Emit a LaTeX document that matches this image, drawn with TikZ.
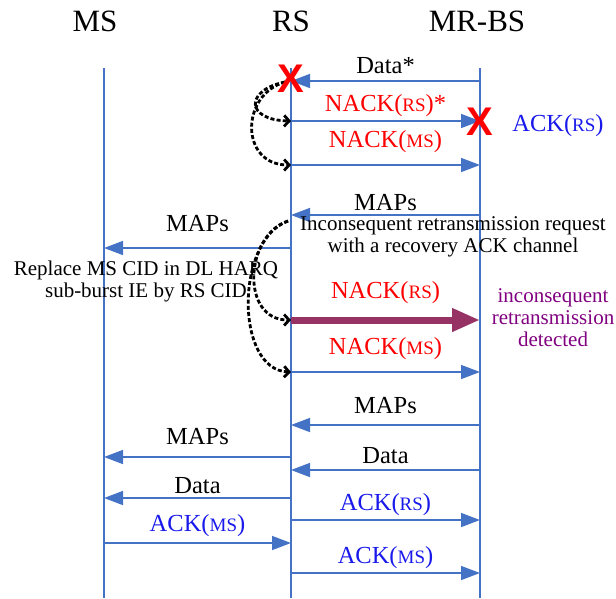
\documentclass[tikz,border=0pt]{standalone}
\usepackage{fontspec}
\setmainfont{Liberation Serif}
\newfontfamily\crossfont{Liberation Sans}
\usetikzlibrary{arrows.meta}
\definecolor{lifeblue}{RGB}{68,114,196}
\definecolor{ackblue}{RGB}{25,25,235}
\definecolor{plum}{RGB}{150,50,100}
\definecolor{detpurple}{RGB}{128,0,128}
\newcommand{\ids}[1]{{\fontsize{19pt}{19pt}\selectfont #1}}

\begin{document}
\begin{tikzpicture}[x=1pt,y=-1pt,font=\fontsize{24.5pt}{26pt}\selectfont]

\tikzstyle{head}=[font=\fontsize{31pt}{31pt}\selectfont,inner sep=0pt]
\tikzstyle{life}=[lifeblue,line width=2pt]
\tikzstyle{msg}=[lifeblue,line width=1.5pt,-{Triangle[length=19pt,width=14pt]}]
\tikzstyle{fat}=[plum,line width=7pt,-{Triangle[length=28pt,width=22pt]}]
\tikzstyle{lab}=[midway,above=4pt,inner sep=0pt,text=black]
\tikzstyle{note}=[font=\fontsize{21pt}{22pt}\selectfont,align=center,inner sep=0pt]
\tikzstyle{cross}=[text=red,font=\crossfont\bfseries\fontsize{40pt}{40pt}\selectfont,inner sep=0pt]
\tikzstyle{hop}=[black,line width=2.8pt,dash pattern=on 4pt off 2.2pt,-{Straight Barb[length=5pt,width=11pt]}]

\useasboundingbox (0,0) rectangle (616,598);

\def\xms{104} \def\xrs{291} \def\xbs{480}

% entities and lifelines
\node[head] (ms) at (95,21) {MS};
\node[head] (rs) at (291,21) {RS};
\node[head] (bs) at (477,21) {MR-BS};
\foreach \e/\x in {ms/\xms,rs/\xrs,bs/\xbs}
  \draw[life] (\x,68) coordinate (\e-top) -- (\x,598) coordinate (\e-bot);

% message levels
\foreach \n/\y in {1/81,2/121,3/165,4/215,5/248,6/320,7/372,8/425,9/457,10/470,11/498,12/520,13/543,14/573} {
  \coordinate (ms\n) at (\xms,\y);
  \coordinate (rs\n) at (\xrs,\y);
  \coordinate (bs\n) at (\xbs,\y);
}

\draw[msg] (bs1) -- (rs1) node[lab,above=3pt] {Data*};
\draw[msg] (rs2) -- (bs2) node[lab,text=red] {NACK(\ids{RS})*};
\draw[msg] (rs3) -- (bs3) node[lab,text=red,above=8pt] {NACK(\ids{MS})};
\draw[msg] (bs4) -- (rs4) node[lab] {MAPs};
\draw[msg] (rs5) -- (ms5) node[lab,above=12pt] {MAPs};
\draw[fat] (rs6) -- (bs6) node[lab,text=red,above=9pt] {NACK(\ids{RS})};
\draw[msg] (rs7) -- (bs7) node[lab,text=red,above=8pt] {NACK(\ids{MS})};
\draw[msg] (bs8) -- (rs8) node[lab,above=7pt] {MAPs};
\draw[msg] (rs9) -- (ms9) node[lab,above=8pt] {MAPs};
\draw[msg] (bs10) -- (rs10) node[lab,above=2pt] {Data};
\draw[msg] (rs11) -- (ms11) node[lab] {Data};
\draw[msg] (rs12) -- (bs12) node[lab,text=ackblue] {ACK(\ids{RS})};
\draw[msg] (ms13) -- (rs13) node[lab,text=ackblue,above=2pt] {ACK(\ids{MS})};
\draw[msg] (rs14) -- (bs14) node[lab,text=ackblue] {ACK(\ids{MS})};

% notes
\node[text=ackblue] (ackrs) at (558,126) {ACK(\ids{RS})};
\node[note] (req) at (453,237) {Inconsequent retransmission request\\with a recovery ACK channel};
\node[note] (repl) at (146,281) {Replace MS CID in DL HARQ\\sub-burst IE by RS CID};
\node[note,text=detpurple] (det) at (553,318) {inconsequent\\retransmission\\detected};

% forwarding hops
\coordinate (hop1) at (285,82);
\coordinate (hop2) at (288,221);
\draw[hop] (hop1) .. controls (245,90) and (245,120) .. (rs2);
\draw[hop] (hop1) .. controls (240,95) and (240,165) .. (rs3);
\draw[hop] (hop2) .. controls (245,235) and (240,320) .. (rs6);
\draw[hop] (hop2) .. controls (235,240) and (235,370) .. (rs7);

% lost messages
\node[cross] (x1) at (291,79) {X};
\node[cross] (x2) at (480,122) {X};

\end{tikzpicture}
\end{document}
